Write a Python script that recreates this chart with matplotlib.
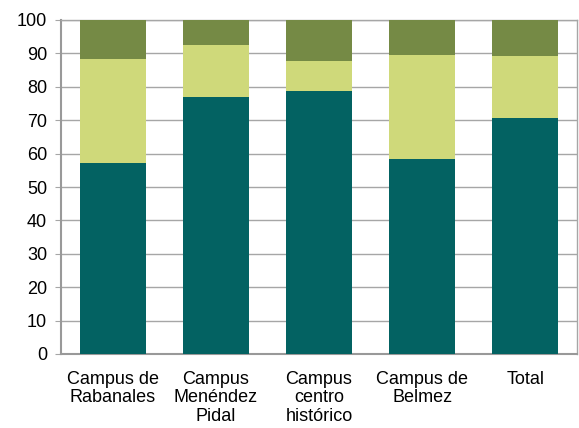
import matplotlib.pyplot as plt
import numpy as np

plt.rcParams['font.family'] = ['Liberation Sans', 'DejaVu Sans']

categories = ['Campus de\nRabanales', 'Campus\nMenéndez\nPidal', 'Campus\ncentro\nhistórico',
              'Campus de\nBelmez', 'Total']
bottom_vals = [57.3, 77.0, 78.8, 58.4, 70.6]
middle_vals = [31.0, 15.6, 8.9, 31.1, 18.6]
top_vals = [11.7, 7.4, 12.3, 10.5, 10.8]

colors = ['#036262', '#cfd97a', '#758a45']

fig = plt.figure(figsize=(5.79, 4.28), dpi=100)
ax = fig.add_axes([61 / 579, 1 - 354 / 428, 516 / 579, 334 / 428])

x = np.arange(len(categories))
w = 0.64
b1 = np.array(bottom_vals)
b2 = b1 + np.array(middle_vals)
ax.bar(x, bottom_vals, width=w, color=colors[0], zorder=3)
ax.bar(x, middle_vals, width=w, bottom=b1, color=colors[1], zorder=3)
ax.bar(x, top_vals, width=w, bottom=b2, color=colors[2], zorder=3)

ax.set_xlim(-0.5, len(categories) - 0.5)
ax.set_ylim(0, 100)
ax.set_yticks(np.arange(0, 101, 10))
ax.yaxis.grid(True, color='#a6a6a6', linewidth=1, zorder=0)
ax.set_xticks(x)
ax.set_xticklabels(categories, fontsize=13, linespacing=1.12)
ax.tick_params(axis='y', labelsize=13, length=4, color='#a6a6a6', pad=6)
ax.tick_params(axis='x', length=0, pad=12)
for s in ax.spines.values():
    s.set_color('#a6a6a6')
    s.set_linewidth(1)
ax.spines['left'].set_color('#999999')
ax.spines['bottom'].set_color('#999999')
ax.spines['left'].set_linewidth(1.5)
ax.spines['bottom'].set_linewidth(1.5)

fig.savefig('out.png', dpi=100)
